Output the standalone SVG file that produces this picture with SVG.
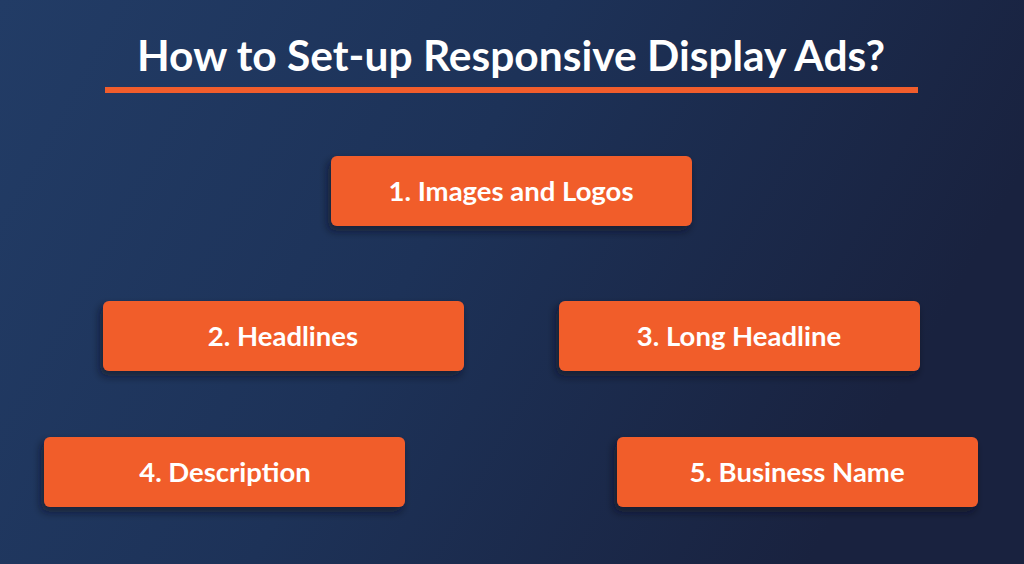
<svg xmlns="http://www.w3.org/2000/svg" width="1024" height="564" viewBox="0 0 1024 564">
<defs>
<linearGradient id="bg" x1="0" y1="0" x2="1" y2="0.3">
<stop offset="0" stop-color="#223c66"/>
<stop offset="0.5" stop-color="#1d3258"/>
<stop offset="1" stop-color="#19223f"/>
</linearGradient>
<filter id="sh" x="-20%" y="-30%" width="140%" height="170%">
<feDropShadow dx="-3" dy="5" stdDeviation="4" flood-color="#0a1020" flood-opacity="0.6"/>
</filter>
</defs>
<style>
.box{fill:#f15d2c;filter:url(#sh)}
.lbl{font-family:Lato,"Liberation Sans",sans-serif;font-weight:700;font-size:27.5px;fill:#fff;text-anchor:middle}
.title{font-family:Lato,"Liberation Sans",sans-serif;font-weight:700;font-size:42.5px;fill:#fff;text-anchor:middle}
</style>
<rect width="1024" height="564" fill="url(#bg)"/>
<g id="title">
<text class="title" x="511" y="71">How to Set-up Responsive Display Ads?</text>
<rect x="105" y="87" width="813" height="6" fill="#f15d2c"/>
</g>
<g id="connectors"></g>
<g id="n1"><rect class="box" x="331" y="156" width="361" height="70" rx="6"/><text class="lbl" x="511" y="201">1. Images and Logos</text></g>
<g id="n2"><rect class="box" x="103" y="301" width="361" height="70" rx="6"/><text class="lbl" x="283" y="346">2. Headlines</text></g>
<g id="n3"><rect class="box" x="559" y="301" width="361" height="70" rx="6"/><text class="lbl" x="739" y="346">3. Long Headline</text></g>
<g id="n4"><rect class="box" x="44" y="437" width="361" height="70" rx="6"/><text class="lbl" x="225" y="482">4. Description</text></g>
<g id="n5"><rect class="box" x="617" y="437" width="361" height="70" rx="6"/><text class="lbl" x="797" y="482">5. Business Name</text></g>
</svg>
